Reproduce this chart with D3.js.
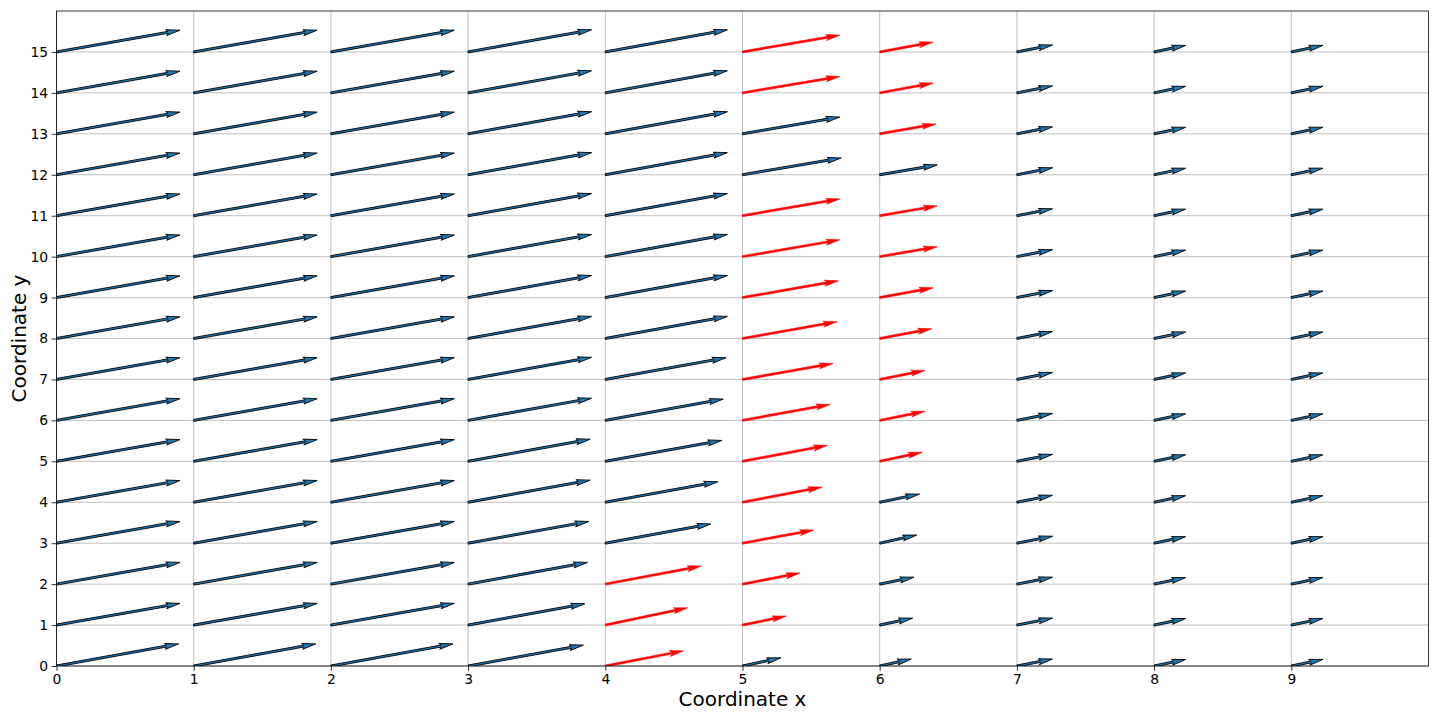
<!DOCTYPE html>
<html>
<head>
<meta charset="utf-8">
<script src="https://cdn.jsdelivr.net/npm/d3@7"></script>
<style>
  html, body { margin: 0; padding: 0; background: #fff; }
  svg { display: block; font-family: "DejaVu Sans", sans-serif; }
</style>
</head>
<body>
<svg id="chart" width="1440" height="720"></svg>
<script>
// grid positions
const xs = [0, 1, 2, 3, 4, 5, 6, 7, 8, 9];
const ys = [0, 1, 2, 3, 4, 5, 6, 7, 8, 9, 10, 11, 12, 13, 14, 15];
const xTicks = [0, 1, 2, 3, 4, 5, 6, 7, 8, 9];
const yTicks = [0, 1, 2, 3, 4, 5, 6, 7, 8, 9, 10, 11, 12, 13, 14, 15];

// arrow x-components, one array per column (rows 0..15)
const U0 = [0.89, 0.90, 0.90, 0.90, 0.90, 0.90, 0.90, 0.90, 0.90, 0.90, 0.90, 0.90, 0.90, 0.90, 0.90, 0.90];
const U1 = [0.89, 0.90, 0.90, 0.90, 0.90, 0.90, 0.90, 0.90, 0.90, 0.90, 0.90, 0.90, 0.90, 0.90, 0.90, 0.90];
const U2 = [0.89, 0.90, 0.90, 0.90, 0.90, 0.90, 0.90, 0.90, 0.90, 0.90, 0.90, 0.90, 0.90, 0.90, 0.90, 0.90];
const U3 = [0.84, 0.85, 0.87, 0.88, 0.89, 0.89, 0.90, 0.90, 0.90, 0.90, 0.90, 0.90, 0.90, 0.90, 0.90, 0.90];
const U4 = [0.57, 0.60, 0.70, 0.77, 0.82, 0.85, 0.86, 0.88, 0.89, 0.89, 0.89, 0.89, 0.89, 0.89, 0.89, 0.89];
const U5 = [0.28, 0.32, 0.42, 0.52, 0.58, 0.62, 0.64, 0.66, 0.69, 0.70, 0.71, 0.71, 0.72, 0.71, 0.71, 0.71];
const U6 = [0.23, 0.24, 0.25, 0.27, 0.29, 0.31, 0.33, 0.33, 0.38, 0.39, 0.42, 0.42, 0.42, 0.41, 0.39, 0.39];
const U7 = [0.26, 0.26, 0.26, 0.26, 0.26, 0.26, 0.26, 0.26, 0.26, 0.26, 0.26, 0.26, 0.26, 0.26, 0.26, 0.26];
const U8 = [0.23, 0.23, 0.23, 0.23, 0.23, 0.23, 0.23, 0.23, 0.23, 0.23, 0.23, 0.23, 0.23, 0.23, 0.23, 0.23];
const U9 = [0.23, 0.23, 0.23, 0.23, 0.23, 0.23, 0.23, 0.23, 0.23, 0.23, 0.23, 0.23, 0.23, 0.23, 0.23, 0.23];

// arrow y-components, one array per column (rows 0..15)
const V0 = [0.54, 0.53, 0.53, 0.53, 0.53, 0.53, 0.53, 0.53, 0.53, 0.53, 0.53, 0.53, 0.53, 0.53, 0.53, 0.53];
const V1 = [0.54, 0.53, 0.53, 0.53, 0.53, 0.53, 0.53, 0.53, 0.53, 0.53, 0.53, 0.53, 0.53, 0.53, 0.53, 0.53];
const V2 = [0.54, 0.53, 0.53, 0.53, 0.53, 0.53, 0.53, 0.53, 0.53, 0.53, 0.53, 0.53, 0.53, 0.53, 0.53, 0.53];
const V3 = [0.51, 0.52, 0.53, 0.53, 0.54, 0.54, 0.54, 0.54, 0.54, 0.54, 0.54, 0.54, 0.54, 0.54, 0.54, 0.54];
const V4 = [0.37, 0.42, 0.44, 0.47, 0.50, 0.51, 0.52, 0.53, 0.54, 0.54, 0.54, 0.54, 0.54, 0.54, 0.54, 0.54];
const V5 = [0.20, 0.22, 0.27, 0.32, 0.37, 0.39, 0.39, 0.39, 0.41, 0.41, 0.41, 0.41, 0.41, 0.41, 0.40, 0.41];
const V6 = [0.17, 0.17, 0.17, 0.20, 0.20, 0.22, 0.22, 0.22, 0.24, 0.24, 0.24, 0.24, 0.24, 0.24, 0.24, 0.24];
const V7 = [0.17, 0.17, 0.17, 0.17, 0.17, 0.17, 0.17, 0.17, 0.17, 0.17, 0.17, 0.17, 0.17, 0.17, 0.17, 0.17];
const V8 = [0.16, 0.16, 0.16, 0.16, 0.16, 0.16, 0.16, 0.16, 0.16, 0.16, 0.16, 0.16, 0.16, 0.16, 0.16, 0.16];
const V9 = [0.16, 0.16, 0.16, 0.16, 0.16, 0.16, 0.16, 0.16, 0.16, 0.16, 0.16, 0.16, 0.16, 0.16, 0.16, 0.16];

// highlighted (red) arrows as [column, row]
const highlighted = [
  [4, 0], [4, 1], [4, 2],
  [5, 1], [5, 2], [5, 3], [5, 4], [5, 5], [5, 6], [5, 7], [5, 8], [5, 9], [5, 10], [5, 11], [5, 14], [5, 15],
  [6, 5], [6, 6], [6, 7], [6, 8], [6, 9], [6, 10], [6, 11], [6, 13], [6, 14], [6, 15]
];

const xLabel = "Coordinate x";
const yLabel = "Coordinate y";

// ---- build table ----
const U = [U0, U1, U2, U3, U4, U5, U6, U7, U8, U9];
const V = [V0, V1, V2, V3, V4, V5, V6, V7, V8, V9];
const hiSet = new Set(highlighted.map(d => d[0] + "," + d[1]));
const arrows = [];
xs.forEach((x, ci) => ys.forEach((y, ri) => {
  arrows.push({ x, y, u: U[ci][ri], v: V[ci][ri], hi: hiSet.has(ci + "," + ri) });
}));

// ---- layout ----
const L = 56.5, R = 1428.5, T = 11, B = 666;
const svg = d3.select("#chart");
const xScale = d3.scaleLinear().domain([0, 10]).range([L, R]);
const yScale = d3.scaleLinear().domain([0, 16]).range([B, T]);

// grid
const grid = svg.append("g");
grid.selectAll("line.gx").data(xTicks).enter().append("line")
  .attr("x1", d => xScale(d)).attr("x2", d => xScale(d))
  .attr("y1", T).attr("y2", B)
  .attr("stroke", "#b0b0b0").attr("stroke-width", 0.8);
grid.selectAll("line.gy").data(yTicks).enter().append("line")
  .attr("y1", d => yScale(d)).attr("y2", d => yScale(d))
  .attr("x1", L).attr("x2", R)
  .attr("stroke", "#b0b0b0").attr("stroke-width", 0.8);

// arrows (quiver-like polygon), sizes in px
const shaftHalf = 1.0, headHalf = 3.0, headLen = 14, headAxis = 12;
function arrowPath(d) {
  const x0 = xScale(d.x), y0 = yScale(d.y);
  const x1 = xScale(d.x + d.u), y1 = yScale(d.y + d.v);
  const dx = x1 - x0, dy = y1 - y0;
  const len = Math.hypot(dx, dy);
  const hl = Math.min(headLen, len * 0.5), ha = hl * headAxis / headLen;
  const pts = [[0, shaftHalf], [len - ha, shaftHalf], [len - hl, headHalf], [len, 0],
               [len - hl, -headHalf], [len - ha, -shaftHalf], [0, -shaftHalf]];
  const c = dx / len, s = dy / len;
  return "M" + pts.map(([X, Y]) =>
    (x0 + X * c - Y * s).toFixed(2) + "," + (y0 + X * s + Y * c).toFixed(2)
  ).join("L") + "Z";
}
svg.append("clipPath").attr("id", "clip").append("rect")
  .attr("x", L).attr("y", T).attr("width", R - L).attr("height", B - T);
svg.append("g").attr("clip-path", "url(#clip)")
  .selectAll("path").data(arrows).enter().append("path")
  .attr("d", arrowPath)
  .attr("fill", d => d.hi ? "#ff0000" : "#1f77b4")
  .attr("stroke", d => d.hi ? "#ff0000" : "#000")
  .attr("stroke-width", d => d.hi ? 0.6 : 0.9)
  .attr("stroke-linejoin", "miter");

// axes
const xAxis = d3.axisBottom(xScale).tickValues(xTicks).tickFormat(d3.format("d")).tickSize(4.9).tickPadding(3.5);
const yAxis = d3.axisLeft(yScale).tickValues(yTicks).tickFormat(d3.format("d")).tickSize(4.9).tickPadding(3.5);
const gx = svg.append("g").attr("transform", `translate(0,${B})`).call(xAxis);
const gy = svg.append("g").attr("transform", `translate(${L},0)`).call(yAxis);
[gx, gy].forEach(g => {
  g.select(".domain").remove();
  g.selectAll("line").attr("stroke", "#000").attr("stroke-width", 0.8);
  g.selectAll("text").attr("font-size", "13.9px").attr("fill", "#000")
    .attr("font-family", "DejaVu Sans, sans-serif");
});

// frame
svg.append("rect").attr("x", L).attr("y", T).attr("width", R - L).attr("height", B - T)
  .attr("fill", "none").attr("stroke", "#000").attr("stroke-width", 0.8);

// labels
svg.append("text").attr("x", (L + R) / 2).attr("y", 706)
  .attr("text-anchor", "middle").attr("font-size", "20px").text(xLabel);
svg.append("text").attr("transform", `translate(26,${(T + B) / 2}) rotate(-90)`)
  .attr("text-anchor", "middle").attr("font-size", "20px").text(yLabel);
</script>
</body>
</html>
